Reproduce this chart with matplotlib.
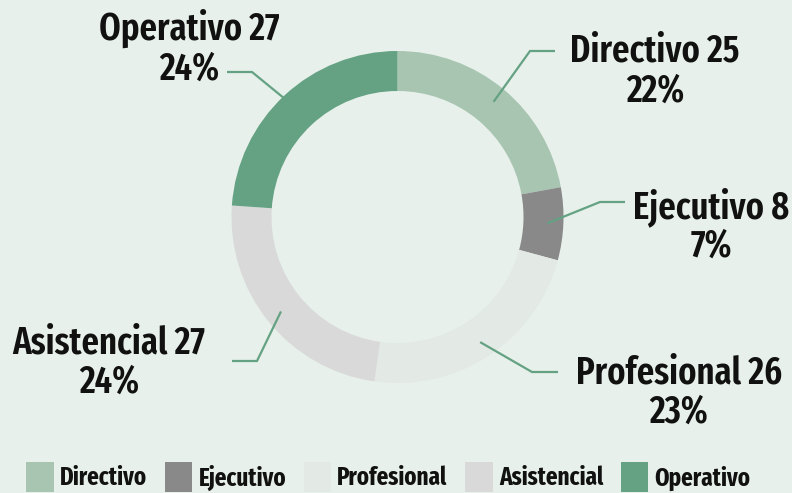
import matplotlib
matplotlib.use("Agg")
import matplotlib.pyplot as plt
import numpy as np

# ---- data ----
categories = ["Directivo", "Ejecutivo", "Profesional", "Asistencial", "Operativo"]
values = [25, 8, 26, 27, 27]
percent_labels = ["22%", "7%", "23%", "24%", "24%"]

# ---- style / layout ----
colors = ["#a8c5b2", "#898989", "#e3e9e5", "#d9d9d9", "#64a283"]
bg = "#e7f0ea"
line_color = "#64a283"
font = "Fira Sans Extra Condensed"
W, H = 792, 493
center_px = (397.5, 217)
r_out, ring_w = 166, 40
# label layout (pixels from top-left): text centre x, baseline of line 1, baseline of line 2
label_pos = [(655, 62, 102), (711, 218, 257), (679, 383, 423), (109, 353, 393), (189, 40, 80)]
# leader elbow and end points (pixels)
elbows = [(530, 51), (600, 202), (532, 372), (257, 361), (252, 72)]
ends = [(555, 51), (625, 202), (558, 372), (232, 361), (227, 72)]

fig = plt.figure(figsize=(W / 100, H / 100), dpi=100, facecolor=bg)
ax = fig.add_axes([0, 0, 1, 1])
ax.set_facecolor(bg)

def Y(py):
    return H - py

cx, cy = center_px[0], Y(center_px[1])
wedges, _ = ax.pie(values, colors=colors, startangle=90, counterclock=False,
                   center=(cx, cy), radius=r_out,
                   wedgeprops=dict(width=ring_w, linewidth=0, antialiased=True))
ax.set_xlim(0, W)
ax.set_ylim(0, H)
ax.set_aspect("equal")
ax.axis("off")

total = sum(values)
start = 90.0
for i, v in enumerate(values):
    span = v / total * 360.0
    mid = np.deg2rad(start - span / 2)
    start -= span
    r0 = r_out - ring_w / 2 + 4
    sx, sy = cx + r0 * np.cos(mid), cy + r0 * np.sin(mid)
    ex, ey = elbows[i]
    fx, fy = ends[i]
    ax.plot([sx, ex, fx], [sy, Y(ey), Y(fy)], color=line_color, lw=1.6,
            solid_joinstyle="miter", solid_capstyle="butt", zorder=3)
    tx, b1, b2 = label_pos[i]
    ax.text(tx, Y(b1), f"{categories[i]} {v}", ha="center", va="baseline",
            fontsize=27, family=font, weight=600, color="#111111")
    ax.text(tx, Y(b2), percent_labels[i], ha="center", va="baseline",
            fontsize=27, family=font, weight=600, color="#111111")

leg = fig.legend(wedges, categories, loc="lower center", ncol=5,
                 bbox_to_anchor=(388.5 / W, 1.0 / H), frameon=False,
                 prop=dict(family=font, weight=700, size=18),
                 handlelength=1.1, handleheight=1.45, handletextpad=0.25,
                 columnspacing=0.7, borderpad=0, borderaxespad=0)
for t in leg.get_texts():
    t.set_color("#111111")

fig.savefig("out.png", dpi=100, facecolor=bg)
